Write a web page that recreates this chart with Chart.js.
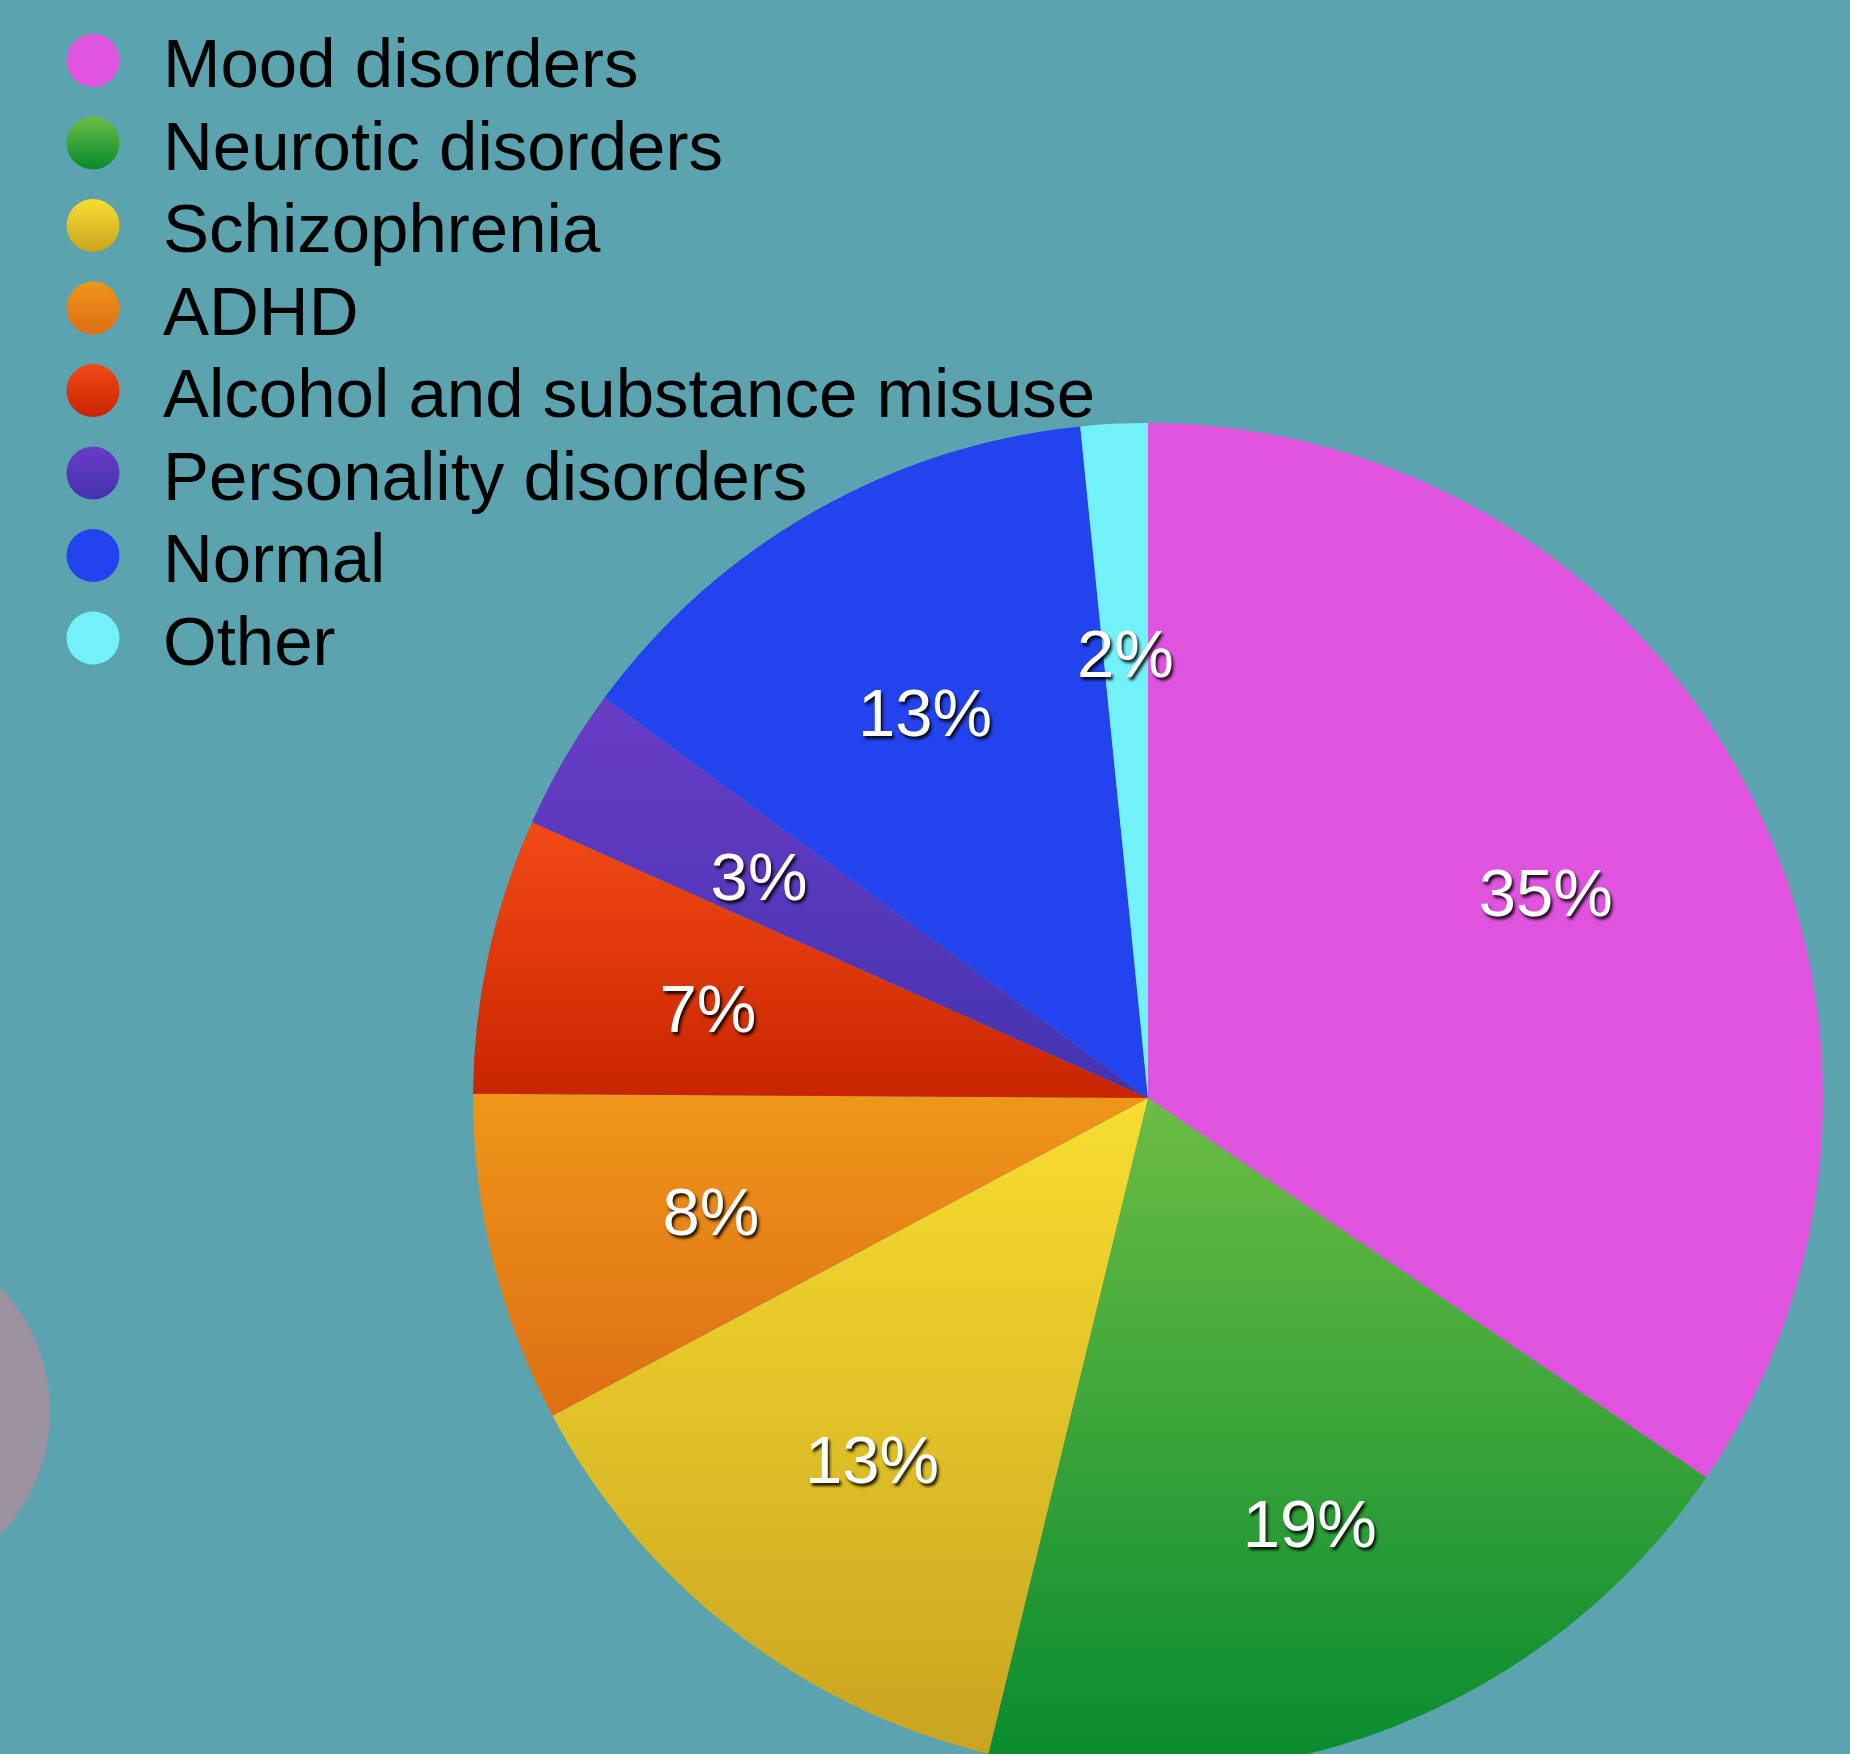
<!DOCTYPE html>
<html lang="en">
<head>
    <meta charset="UTF-8">
    <title>Diagnoses</title>
    <style>
        html, body {
            margin: 0;
            padding: 0;
            overflow: hidden;
            background-color: #5ba3ae;
        }
        .chart-container {
            position: relative;
            width: 1850px;
            height: 1800px;
        }
    </style>
</head>
<body>
    <div class="chart-container">
        <canvas id="pieChart"></canvas>
    </div>
    <script src="https://cdn.jsdelivr.net/npm/chart.js"></script>
    <script>
        // data (share of patients, %)
        const categories = ['Mood disorders', 'Neurotic disorders', 'Schizophrenia', 'ADHD',
            'Alcohol and substance misuse', 'Personality disorders', 'Normal', 'Other'];
        const shares = [34.5, 19.3, 13.4, 7.9, 6.6, 3.4, 13.3, 1.6];

        // slice colours, top and bottom of the vertical shading
        const topColors = ['#df53de', '#6cbd44', '#f7de30', '#ef961a', '#f24a16', '#6a3cc6', '#2343ef', '#72f2f8'];
        const bottomColors = ['#df53de', '#078a2e', '#c9a420', '#dd6e14', '#c82400', '#4333b0', '#2343ef', '#72f2f8'];

        function sliceGradient(context) {
            const chart = context.chart;
            const area = chart.chartArea;
            const i = context.dataIndex;
            if (!area) return topColors[i];
            const data = context.dataset.data;
            const total = data.reduce((a, b) => a + b, 0);
            let before = 0;
            for (let k = 0; k < i; k++) before += data[k];
            const a0 = -Math.PI / 2 + before / total * 2 * Math.PI;
            const a1 = a0 + data[i] / total * 2 * Math.PI;
            const cy = (area.top + area.bottom) / 2;
            const r = Math.min(area.width, area.height) / 2;
            const ys = [cy, cy + r * Math.sin(a0), cy + r * Math.sin(a1)];
            [-Math.PI / 2, Math.PI / 2, 3 * Math.PI / 2].forEach(t => {
                if (t >= a0 && t <= a1) ys.push(cy + r * Math.sin(t));
            });
            const g = chart.ctx.createLinearGradient(0, Math.min(...ys), 0, Math.max(...ys));
            g.addColorStop(0, topColors[i]);
            g.addColorStop(1, bottomColors[i]);
            return g;
        }

        // the pale circle cut by the left edge
        const backdropPlugin = {
            id: 'backdrop',
            beforeDraw(chart) {
                const ctx = chart.ctx;
                ctx.save();
                ctx.fillStyle = '#9d92a1';
                ctx.beginPath();
                ctx.arc(-129, 1411, 179, 0, Math.PI * 2);
                ctx.fill();
                ctx.restore();
            }
        };

        // percentage labels inside the slices
        const percentPlugin = {
            id: 'percentLabels',
            afterDatasetsDraw(chart) {
                const ctx = chart.ctx;
                const meta = chart.getDatasetMeta(0);
                const data = chart.data.datasets[0].data;
                const total = data.reduce((a, b) => a + b, 0);
                const size = 67;
                ctx.save();
                ctx.font = size + 'px "Liberation Sans", Arial, sans-serif';
                ctx.textAlign = 'center';
                ctx.textBaseline = 'alphabetic';
                ctx.fillStyle = '#ffffff';
                ctx.shadowColor = 'rgba(0, 0, 0, 0.85)';
                ctx.shadowOffsetX = 2;
                ctx.shadowOffsetY = 3;
                ctx.shadowBlur = 3;
                meta.data.forEach((arc, i) => {
                    const mid = (arc.startAngle + arc.endAngle) / 2;
                    const d = arc.outerRadius * 0.667;
                    const x = arc.x + Math.cos(mid) * d;
                    const y = arc.y + Math.sin(mid) * d + 5;
                    const text = Math.round(data[i] / total * 100) + '%';
                    ctx.fillText(text, x, y + size * 0.358);
                });
                ctx.restore();
            }
        };

        // legend in the top left corner, over the plot
        const legendPlugin = {
            id: 'cornerLegend',
            afterDraw(chart) {
                const ctx = chart.ctx;
                const labels = chart.data.labels;
                ctx.save();
                ctx.font = '69px "Liberation Sans", Arial, sans-serif';
                ctx.textBaseline = 'alphabetic';
                ctx.textAlign = 'left';
                labels.forEach((label, i) => {
                    const cy = 60.5 + 82.5 * i;
                    const g = ctx.createLinearGradient(0, cy - 26.5, 0, cy + 26.5);
                    g.addColorStop(0, topColors[i]);
                    g.addColorStop(1, bottomColors[i]);
                    ctx.fillStyle = g;
                    ctx.beginPath();
                    ctx.arc(93, cy, 26.5, 0, Math.PI * 2);
                    ctx.fill();
                    ctx.fillStyle = '#000000';
                    ctx.fillText(label, 163, 87 + 82.5 * i);
                });
                ctx.restore();
            }
        };

        const ctx = document.getElementById('pieChart').getContext('2d');
        new Chart(ctx, {
            type: 'pie',
            data: {
                labels: categories,
                datasets: [{
                    data: shares,
                    backgroundColor: sliceGradient,
                    borderWidth: 0
                }]
            },
            options: {
                responsive: true,
                maintainAspectRatio: false,
                animation: false,
                layout: {
                    padding: { left: 473, right: 27, top: 423, bottom: 27 }
                },
                plugins: {
                    legend: { display: false },
                    tooltip: { enabled: false }
                }
            },
            plugins: [backdropPlugin, percentPlugin, legendPlugin]
        });
    </script>
</body>
</html>
